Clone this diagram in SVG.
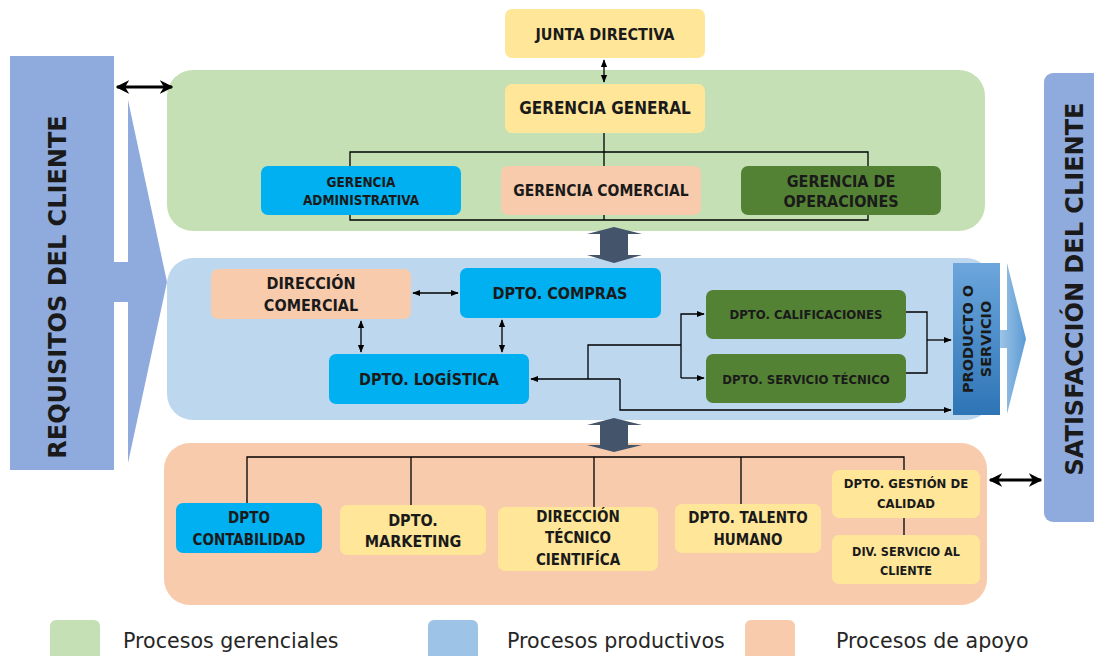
<svg xmlns="http://www.w3.org/2000/svg" width="1094" height="656" viewBox="0 0 1094 656">
<style>
.bx{font-family:"Liberation Sans Narrow","DejaVu Sans Condensed","Liberation Sans",sans-serif;font-weight:bold;fill:#1a1a1a;text-anchor:middle;dominant-baseline:central}
.side{font-family:"DejaVu Sans",Verdana,sans-serif;font-weight:bold;fill:#1a1a1a;text-anchor:middle;dominant-baseline:central}
.leg{font-family:"DejaVu Sans",sans-serif;font-size:20.6px;fill:#262626}
.ln{fill:none;stroke:#000;stroke-width:1.3}
.thick{fill:none;stroke:#000;stroke-width:3}
.yel{fill:#FFE699}
.cya{fill:#00B0F0}
.pea{fill:#F8CBAD}
.grn{fill:#548235}
.gray{fill:#44546A}
</style>
<defs>
<marker id="ah" viewBox="0 0 10 10" refX="9" refY="5" markerWidth="6" markerHeight="6" orient="auto-start-reverse"><path d="M0,1 L10,5 L0,9 z" fill="#000"/></marker>
<marker id="ahb" viewBox="0 0 10 10" refX="9" refY="5" markerWidth="4.5" markerHeight="4.5" orient="auto-start-reverse"><path d="M0,0 L10,5 L0,10 L3,5 z" fill="#000"/></marker>
<linearGradient id="pg" x1="0" y1="0" x2="0" y2="1"><stop offset="0" stop-color="#6CA6DC"/><stop offset="1" stop-color="#2E75B6"/></linearGradient>
<linearGradient id="pa" x1="0" y1="0" x2="1" y2="0"><stop offset="0" stop-color="#9DC3E6"/><stop offset="1" stop-color="#5B9BD5"/></linearGradient>
</defs>

<!-- regions -->
<g id="region-gerencial"><rect x="167" y="70" width="818" height="161" rx="26" fill="#C5E0B4"/></g>
<g id="region-productivo"><rect x="167" y="258" width="825" height="162" rx="26" fill="#BDD7EE"/></g>
<g id="region-apoyo"><rect x="164" y="443" width="823" height="162" rx="26" fill="#F8CBAD"/></g>

<!-- side bars -->
<g id="requisitos">
<rect x="10" y="56" width="104" height="414" fill="#8FAADC"/>
<polygon points="114,262 128,262 128,100 167,282 128,463 128,302 114,302" fill="#8FAADC"/>
<text class="side" font-size="24" transform="translate(58,287) rotate(-90)">REQUISITOS DEL CLIENTE</text>
</g>
<g id="satisfaccion">
<rect x="1044" y="73" width="60" height="449" rx="9" fill="#8FAADC"/>
<text class="side" font-size="24" transform="translate(1075,289) rotate(-90)">SATISFACCIÓN DEL CLIENTE</text>
</g>

<!-- nodes -->
<g id="junta"><rect class="yel" x="505" y="9" width="200" height="49" rx="7"/><text class="bx" font-size="16" x="605" y="34">JUNTA DIRECTIVA</text></g>
<g id="gerencia-general"><rect class="yel" x="505" y="84" width="200" height="49" rx="7"/><text class="bx" font-size="17" x="605" y="108">GERENCIA GENERAL</text></g>
<g id="gerencia-admin"><rect class="cya" x="261" y="166" width="200" height="49" rx="7"/><text class="bx" font-size="13.5" x="361" y="182">GERENCIA</text><text class="bx" font-size="13.5" x="361" y="200">ADMINISTRATIVA</text></g>
<g id="gerencia-comercial"><rect class="pea" x="501" y="166" width="200" height="49" rx="7"/><text class="bx" font-size="15.5" x="601" y="191">GERENCIA COMERCIAL</text></g>
<g id="gerencia-operaciones"><rect class="grn" x="741" y="166" width="200" height="49" rx="7"/><text class="bx" font-size="16" x="841" y="181">GERENCIA DE</text><text class="bx" font-size="16" x="841" y="201">OPERACIONES</text></g>

<g id="direccion-comercial"><rect class="pea" x="211" y="269" width="200" height="50" rx="7"/><text class="bx" font-size="16" x="311" y="283">DIRECCIÓN</text><text class="bx" font-size="16" x="311" y="305">COMERCIAL</text></g>
<g id="dpto-compras"><rect class="cya" x="460" y="268" width="201" height="50" rx="7"/><text class="bx" font-size="16" x="560" y="293">DPTO. COMPRAS</text></g>
<g id="dpto-logistica"><rect class="cya" x="329" y="354" width="200" height="50" rx="7"/><text class="bx" font-size="16" x="429" y="379">DPTO. LOGÍSTICA</text></g>
<g id="dpto-calificaciones"><rect class="grn" x="706" y="290" width="200" height="49" rx="7"/><text class="bx" font-size="13" x="806" y="314">DPTO. CALIFICACIONES</text></g>
<g id="dpto-servicio-tecnico"><rect class="grn" x="706" y="354" width="200" height="49" rx="7"/><text class="bx" font-size="13" x="806" y="379">DPTO. SERVICIO TÉCNICO</text></g>
<g id="producto-servicio">
<rect x="953" y="263" width="47" height="152" fill="url(#pg)"/>
<polygon points="1000,330 1007,330 1007,263 1026,339 1007,414 1007,348 1000,348" fill="url(#pa)"/>
<text class="side" font-size="14.5" transform="translate(968,339) rotate(-90)">PRODUCTO O</text>
<text class="side" font-size="14.5" transform="translate(986,339) rotate(-90)">SERVICIO</text>
</g>

<g id="dpto-contabilidad"><rect class="cya" x="176" y="503" width="146" height="50" rx="7"/><text class="bx" font-size="15" x="249" y="518">DPTO</text><text class="bx" font-size="15" x="249" y="540">CONTABILIDAD</text></g>
<g id="dpto-marketing"><rect class="yel" x="340" y="505" width="146" height="50" rx="7"/><text class="bx" font-size="16" x="413" y="520">DPTO.</text><text class="bx" font-size="16" x="413" y="541">MARKETING</text></g>
<g id="direccion-tecnico"><rect class="yel" x="498" y="507" width="160" height="64" rx="7"/><text class="bx" font-size="15" x="578" y="517">DIRECCIÓN</text><text class="bx" font-size="15" x="578" y="538">TÉCNICO</text><text class="bx" font-size="15" x="578" y="560">CIENTIFÍCA</text></g>
<g id="dpto-talento"><rect class="yel" x="675" y="504" width="146" height="49" rx="7"/><text class="bx" font-size="15" x="748" y="518">DPTO. TALENTO</text><text class="bx" font-size="15" x="748" y="540">HUMANO</text></g>
<g id="dpto-calidad"><rect class="yel" x="832" y="470" width="148" height="48" rx="7"/><text class="bx" font-size="13" x="906" y="483">DPTO. GESTIÓN DE</text><text class="bx" font-size="13" x="906" y="503">CALIDAD</text></g>
<g id="div-servicio"><rect class="yel" x="832" y="535" width="148" height="49" rx="7"/><text class="bx" font-size="12.5" x="906" y="551">DIV. SERVICIO AL</text><text class="bx" font-size="12.5" x="906" y="570">CLIENTE</text></g>

<!-- connectors -->
<g id="connectors">
<path class="thick" d="M117,87 H172" marker-start="url(#ahb)" marker-end="url(#ahb)"/>
<path class="thick" d="M990,480 H1041" marker-start="url(#ahb)" marker-end="url(#ahb)"/>
<path class="ln" d="M604,60 V82" stroke-width="1" marker-start="url(#ah)" marker-end="url(#ah)"/>
<path class="ln" d="M604,133 V166 M350,166 V152 H868 V166 M350,215 V220 H868 V215 M604,215 V220"/>
<polygon class="gray" points="614,227 642,234 628,234 628,255 642,255 614,263 587,255 600,255 600,234 587,234"/>
<polygon class="gray" points="614,418 642,425 628,425 628,445 642,445 614,452 587,445 600,445 600,425 587,425"/>
<path class="ln" d="M413,293 H458" marker-start="url(#ah)" marker-end="url(#ah)"/>
<path class="ln" d="M361,321 V352" marker-start="url(#ah)" marker-end="url(#ah)"/>
<path class="ln" d="M502,320 V352" marker-start="url(#ah)" marker-end="url(#ah)"/>
<path class="ln" d="M620,379 H531" marker-end="url(#ah)"/>
<path class="ln" d="M588,379 V345 H681"/>
<path class="ln" d="M681,378 V314 H704" marker-end="url(#ah)"/>
<path class="ln" d="M681,378 H704" marker-end="url(#ah)"/>
<path class="ln" d="M620,379 V410 H951" marker-end="url(#ah)"/>
<path class="ln" d="M906,312 H927 V373 H906"/>
<path class="ln" d="M927,340 H951" marker-end="url(#ah)"/>
<path class="ln" d="M247,503 V457 H904 V470 M411,457 V505 M594,457 V507 M741,457 V504 M904,518 V535"/>
</g>

<!-- legend -->
<g id="legend">
<rect x="50" y="620" width="50" height="50" rx="6" fill="#C5E0B4"/>
<text class="leg" x="123" y="648">Procesos gerenciales</text>
<rect x="428" y="620" width="50" height="50" rx="6" fill="#9DC3E6"/>
<text class="leg" x="507" y="648">Procesos productivos</text>
<rect x="745" y="620" width="50" height="50" rx="6" fill="#F8CBAD"/>
<text class="leg" x="836" y="648">Procesos de apoyo</text>
</g>
</svg>
